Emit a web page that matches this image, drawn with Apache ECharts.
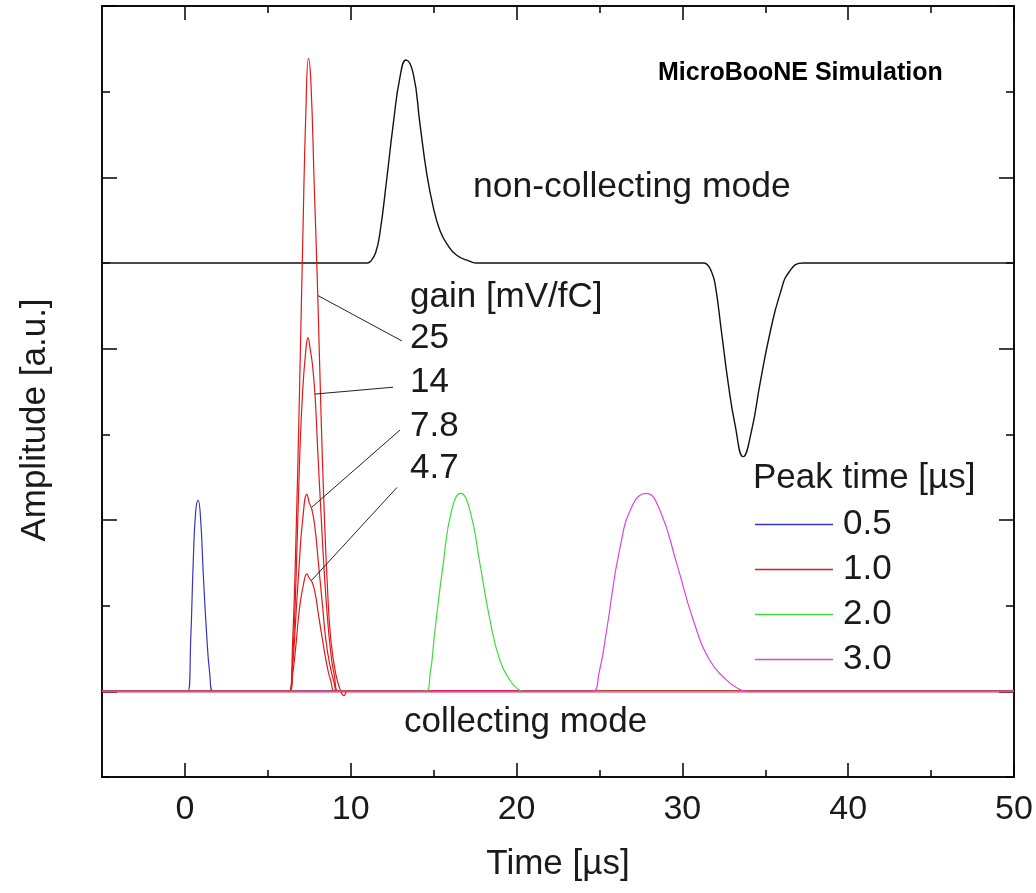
<!DOCTYPE html>
<html>
<head>
<meta charset="utf-8">
<script src="https://cdn.jsdelivr.net/npm/echarts@6/dist/echarts.min.js"></script>
<style>html,body{margin:0;padding:0;background:#fff}#c{width:1036px;height:893px}</style>
</head>
<body>
<div id="c"></div>
<script>
// ---- Data ----
const timeTicks = [0, 10, 20, 30, 40, 50];
const timeMinorTicks = [5, 15, 25, 35, 45];
const ampMajorTicks = [0, 2, 4, 6, 8];
const ampMinorTicks = [-1, 1, 3, 5, 7];
const legendNames = ['0.5', '1.0', '2.0', '3.0'];

// non-collecting mode (induction), baseline at 5
const nonCollecting = [[-5,5],[11.0,5],[11.2,5.02],[11.5,5.12],[11.76,5.35],[12.16,5.96],[12.57,6.63],[12.97,7.17],[13.33,7.37],[13.77,7.21],[14.17,6.63],[14.58,6.05],[14.98,5.65],[15.38,5.38],[15.78,5.23],[16.39,5.09],[17.19,5.02],[17.6,5],
  [31.3,5],[31.55,4.97],[31.75,4.9],[31.97,4.76],[32.37,4.18],[32.77,3.59],[33.17,3.12],[33.67,2.74],[34.18,3.05],[34.68,3.59],[35.28,4.18],[35.89,4.64],[36.49,4.91],[37.29,5.0],[50,5]];

// collecting mode, peak time 0.5 us
const peak05 = [[-5,0],[0.18,0],[0.35,0.6],[0.5,1.5],[0.65,2.1],[0.8,2.23],[0.95,2.0],[1.1,1.4],[1.3,0.7],[1.5,0.2],[1.7,0],[50,0]];
// peak time 1.0 us, four gains
const peak10g25 = [[-5,0],[6.3,0],[6.5,0.6],[6.7,1.8],[6.9,3.4],[7.1,5.2],[7.3,6.8],[7.45,7.39],[7.6,7.1],[7.8,5.9],[8.0,4.7],[8.2,3.3],[8.4,2.1],[8.6,1.2],[8.8,0.6],[9.1,0.2],[9.4,0],[9.6,-0.05],[9.8,0],[50,0]];
const peak10g14 = [[-5,0],[6.3,0],[6.5,0.4],[6.7,1.3],[6.9,2.6],[7.1,3.5],[7.3,4.0],[7.42,4.13],[7.55,4.0],[7.7,3.8],[7.85,3.45],[8.0,2.85],[8.2,2.1],[8.4,1.4],[8.6,0.85],[8.8,0.45],[9.0,0.2],[9.3,0],[50,0]];
const peak10g78 = [[-5,0],[6.3,0],[6.5,0.3],[6.7,0.9],[6.9,1.5],[7.1,2.0],[7.36,2.30],[7.5,2.2],[7.66,2.12],[7.85,1.9],[8.05,1.5],[8.3,1.0],[8.5,0.6],[8.75,0.3],[9.0,0.1],[9.2,0],[50,0]];
const peak10g47 = [[-5,0],[6.3,0],[6.5,0.2],[6.7,0.55],[6.9,0.95],[7.15,1.25],[7.36,1.37],[7.5,1.32],[7.66,1.28],[7.85,1.15],[8.05,0.9],[8.3,0.6],[8.55,0.32],[8.8,0.12],[9.1,0],[50,0]];
// peak time 2.0 us
const peak20 = [[-5,0],[14.5,0],[14.8,0.22],[15.08,0.71],[15.58,1.49],[16.08,2.11],[16.63,2.31],[17.19,2.11],[17.79,1.49],[18.40,0.83],[19.0,0.36],[19.6,0.13],[20.0,0.04],[20.4,0],[50,0]];
// peak time 3.0 us
const peak30 = [[-5,0],[24.55,0],[24.98,0.22],[25.43,0.71],[26.24,1.68],[27.04,2.19],[27.81,2.31],[28.65,2.11],[29.66,1.49],[30.66,0.83],[31.66,0.36],[32.67,0.13],[33.3,0.04],[33.9,0],[50,0]];
// common collecting baseline
const baseline = [[-5,0],[50,0]];
// leader lines from gain labels to curves
const leaderLines = [
  [[8.02,4.62],[13.09,4.09]],
  [[7.84,3.47],[12.55,3.55]],
  [[7.66,2.15],[12.97,3.05]],
  [[7.66,1.30],[12.79,2.38]]
];
const gainLabels = ['gain [mV/fC]', '25', '14', '7.8', '4.7'];

// ---- Chart ----
const FONT = '"Liberation Sans", Arial, sans-serif';
const TXT = '#1a1a1a';
const axisLineStyle = { color: '#000', width: 1.5 };

function xAx(position, ticks, len, labels) {
  return {
    type: 'value', min: -5, max: 50, position: position,
    axisLine: { show: true, onZero: false, lineStyle: axisLineStyle },
    axisTick: { show: true, inside: true, length: len, customValues: ticks, lineStyle: axisLineStyle },
    axisLabel: labels ? { show: true, customValues: ticks, fontSize: 34, fontFamily: FONT, color: TXT, margin: 16 } : { show: false },
    splitLine: { show: false }
  };
}
function yAx(position, ticks, len) {
  return {
    type: 'value', min: -1, max: 8, position: position,
    axisLine: { show: true, onZero: false, lineStyle: axisLineStyle },
    axisTick: { show: true, inside: true, length: len, customValues: ticks, lineStyle: axisLineStyle },
    axisLabel: { show: false },
    splitLine: { show: false }
  };
}

const xAxes = [
  xAx('bottom', timeTicks, 14, true),
  xAx('bottom', timeMinorTicks, 7, false),
  xAx('top', timeTicks, 14, false),
  xAx('top', timeMinorTicks, 7, false)
];
xAxes[0].name = 'Time [µs]';
xAxes[0].nameLocation = 'middle';
xAxes[0].nameGap = 70;
xAxes[0].nameTextStyle = { fontSize: 35, fontFamily: FONT, color: TXT };

const yAxes = [
  yAx('left', ampMajorTicks, 15),
  yAx('left', ampMinorTicks, 8),
  yAx('right', ampMajorTicks, 15),
  yAx('right', ampMinorTicks, 8)
];

function lineSeries(name, data, color, width, z) {
  return {
    name: name, type: 'line', data: data, xAxisIndex: 0, yAxisIndex: 0,
    symbol: 'none', showSymbol: false, smooth: 0.5,
    lineStyle: { color: color, width: width }, itemStyle: { color: color },
    z: z || 2, animation: false
  };
}

const BLUE = '#3434c4', RED = '#e01818', GREEN = '#3ddc3d', MAG = '#dd44dd';

const series = [
  lineSeries('non-collecting', nonCollecting, '#111', 1.4, 3),
  lineSeries('baseline', baseline, '#d6245f', 2.5, 2),
  lineSeries('0.5', peak05, BLUE, 1.2, 3),
  lineSeries('1.0', peak10g25, RED, 1.2, 3),
  lineSeries('1.0', peak10g14, RED, 1.2, 3),
  lineSeries('1.0', peak10g78, RED, 1.2, 3),
  lineSeries('1.0', peak10g47, RED, 1.2, 3),
  lineSeries('2.0', peak20, GREEN, 1.2, 3),
  lineSeries('3.0', peak30, MAG, 1.2, 3),
  {
    name: 'leaders', type: 'lines', coordinateSystem: 'cartesian2d', polyline: false,
    data: leaderLines.map(c => ({ coords: c })),
    lineStyle: { color: '#222', width: 1, opacity: 1 }, symbol: 'none', z: 4, animation: false
  }
];

function txt(text, x, y, size, align, extra) {
  return Object.assign({
    type: 'text', x: x, y: y, z: 10,
    style: { text: text, fontSize: size, fontFamily: FONT, fill: TXT, align: align || 'left', verticalAlign: 'middle' }
  }, extra || {});
}

const graphics = [
  { type: 'text', x: 658, y: 73, z: 10, style: { text: 'MicroBooNE Simulation', fontSize: 25, fontWeight: 'bold', fontFamily: FONT, fill: '#000', align: 'left', verticalAlign: 'middle' } },
  txt('non-collecting mode', 473, 187, 35.5),
  txt(gainLabels[0], 410, 297, 35),
  txt(gainLabels[1], 410, 338, 35),
  txt(gainLabels[2], 410, 382, 35),
  txt(gainLabels[3], 410, 426, 35),
  txt(gainLabels[4], 410, 468, 35),
  txt('Peak time [µs]', 753, 478, 35),
  txt('collecting mode', 404, 722, 35),
  txt('Amplitude [a.u.]', 35, 420, 35, 'center', { rotation: Math.PI / 2 })
];

const chart = echarts.init(document.getElementById('c'), null, { renderer: 'canvas' });
chart.setOption({
  animation: false,
  backgroundColor: '#fff',
  grid: { left: 102, right: 22, top: 6, bottom: 116, containLabel: false },
  xAxis: xAxes,
  yAxis: yAxes,
  legend: {
    show: true,
    data: legendNames, orient: 'vertical', left: 750, top: 502,
    icon: 'rect', itemWidth: 78, itemHeight: 1.5, itemGap: 10,
    textStyle: { fontSize: 35, fontFamily: FONT, color: TXT, lineHeight: 34, padding: [0, 0, 0, 5] },
    selectedMode: false
  },
  series: series,
  graphic: graphics
});
</script>
</body>
</html>
